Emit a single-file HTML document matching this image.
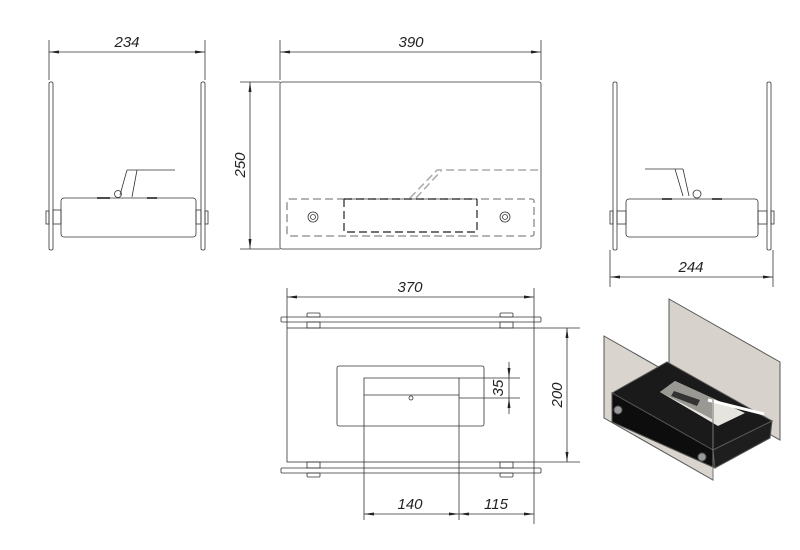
<!DOCTYPE html>
<html><head><style>html,body{margin:0;padding:0;background:#fff;}svg{display:block}
text{font-family:"Liberation Sans",sans-serif;font-style:italic;font-size:15px;fill:#222}</style></head>
<body>
<svg width="800" height="550" viewBox="0 0 800 550" xmlns="http://www.w3.org/2000/svg">
<defs>
<marker id="a" markerWidth="10" markerHeight="6" refX="10" refY="3" orient="auto-start-reverse" markerUnits="userSpaceOnUse"><path d="M0,1.5 L10,3 L0,4.5 Z" fill="#222"/></marker>
</defs>
<g stroke="#333" stroke-width="0.8" fill="none">
<!-- LEFT VIEW -->
<line x1="49" y1="40" x2="49" y2="80"/><line x1="205" y1="40" x2="205" y2="80"/>
<line x1="49" y1="52" x2="205" y2="52" marker-start="url(#a)" marker-end="url(#a)"/>
<rect x="49" y="82" width="4" height="168" rx="1.5"/>
<rect x="201" y="82" width="4" height="168" rx="1.5"/>
<rect x="61" y="198" width="135" height="39" rx="3"/>
<rect x="53" y="210" width="8" height="14"/><rect x="46" y="211" width="3" height="13"/>
<rect x="196" y="210" width="5" height="14"/><rect x="205" y="211" width="3" height="13"/>
<line x1="127" y1="170" x2="175" y2="170" stroke="#999" stroke-width="1.5"/>
<path d="M127,170 L120,195 M137,170 L132,197"/>
<circle cx="118" cy="194" r="3.5"/>
<line x1="97" y1="198" x2="110" y2="198" stroke="#111" stroke-width="1.5"/>
<line x1="147" y1="198" x2="157" y2="198" stroke="#111" stroke-width="1.5"/>
<!-- FRONT VIEW -->
<line x1="280" y1="40" x2="280" y2="80"/><line x1="541" y1="40" x2="541" y2="80"/>
<line x1="280" y1="52" x2="541" y2="52" marker-start="url(#a)" marker-end="url(#a)"/>
<rect x="280" y="82" width="261" height="167" rx="2"/>
<line x1="240" y1="82" x2="280" y2="82"/><line x1="240" y1="249" x2="280" y2="249"/>
<line x1="250" y1="82" x2="250" y2="249" marker-start="url(#a)" marker-end="url(#a)"/>
<rect x="287" y="199" width="247" height="37" rx="2" stroke="#888" stroke-width="1.3" stroke-dasharray="8,4"/>
<path d="M344,199 L344,232 L477,232 L477,199 M344,199 L477,199" stroke="#222" stroke-width="1.2" stroke-dasharray="8,4"/>
<path d="M410,198 L437,170 L541,170 M416,198 L441,171" stroke="#aaa" stroke-width="1.5" stroke-dasharray="8,4"/>
<circle cx="313" cy="217" r="5"/><circle cx="313" cy="217" r="2.5"/>
<circle cx="505" cy="217" r="5"/><circle cx="505" cy="217" r="2.5"/>
<!-- RIGHT VIEW -->
<rect x="613" y="82" width="4" height="168" rx="1.5"/>
<rect x="767" y="82" width="4" height="168" rx="1.5"/>
<rect x="626" y="199" width="132" height="38" rx="3"/>
<rect x="617" y="211" width="9" height="13"/><rect x="610" y="211" width="3" height="13"/>
<rect x="758" y="211" width="9" height="13"/><rect x="771" y="211" width="3" height="13"/>
<line x1="645" y1="169" x2="683" y2="169" stroke="#999" stroke-width="1.5"/>
<path d="M683,169 L689,196 M675,169 L683,196"/>
<circle cx="697" cy="194" r="4"/>
<line x1="662" y1="199" x2="672" y2="199" stroke="#111" stroke-width="1.5"/>
<line x1="712" y1="199" x2="722" y2="199" stroke="#111" stroke-width="1.5"/>
<line x1="610" y1="250" x2="610" y2="287"/><line x1="773" y1="250" x2="773" y2="287"/>
<line x1="610" y1="277" x2="773" y2="277" marker-start="url(#a)" marker-end="url(#a)"/>
<!-- TOP VIEW -->
<line x1="287" y1="288" x2="287" y2="328"/><line x1="534" y1="288" x2="534" y2="328"/>
<line x1="287" y1="297" x2="534" y2="297" marker-start="url(#a)" marker-end="url(#a)"/>
<rect x="281" y="317" width="260" height="5" rx="1"/>
<rect x="281" y="468" width="260" height="5" rx="1"/>
<rect x="287" y="328" width="247" height="134"/>
<rect x="307" y="313" width="13" height="4" rx="1"/><rect x="307" y="322" width="13" height="6"/>
<rect x="500" y="313" width="13" height="4" rx="1"/><rect x="500" y="322" width="13" height="6"/>
<rect x="307" y="462" width="13" height="6"/><rect x="307" y="473" width="13" height="4" rx="1"/>
<rect x="500" y="462" width="13" height="6"/><rect x="500" y="473" width="13" height="4" rx="1"/>
<rect x="337" y="366" width="147" height="60" rx="2"/>
<path d="M364,520 L364,378 L459,378 L459,520 M364,395 L459,395"/>
<circle cx="411" cy="398" r="2"/>
<line x1="459" y1="378" x2="520" y2="378"/><line x1="459" y1="398" x2="520" y2="398"/>
<line x1="509" y1="362" x2="509" y2="378" marker-end="url(#a)"/>
<line x1="509" y1="414" x2="509" y2="398" marker-end="url(#a)"/>
<line x1="509" y1="378" x2="509" y2="398"/>
<line x1="534" y1="328" x2="580" y2="328"/><line x1="534" y1="462" x2="580" y2="462"/>
<line x1="567" y1="328" x2="567" y2="462" marker-start="url(#a)" marker-end="url(#a)"/>
<line x1="534" y1="462" x2="534" y2="524"/>
<line x1="364" y1="514" x2="459" y2="514" marker-start="url(#a)" marker-end="url(#a)"/>
<line x1="459" y1="514" x2="534" y2="514" marker-start="url(#a)" marker-end="url(#a)"/>
</g>
<!-- ISO VIEW -->
<g stroke="#555" stroke-width="1">
<polygon points="669,299 780,362 780,440 669,378" fill="#d7d3cc"/>
<polygon points="604,336 713,398 713,480 604,418" fill="#d9d5ce"/>
<polygon points="612,393 667,362 772,421 713,450" fill="#1a1a1a"/>
<polygon points="612,393 713,450 715,468 612,422" fill="#0d0d0d"/>
<polygon points="713,450 772,421 770,438 715,468" fill="#1e1e1e"/>
<polygon points="660,392 675,381 745,413 718,426" fill="#e6e4df" stroke="none"/>
<polygon points="660,392 675,381 712,398 712,419" fill="#9a9893" stroke="none"/>
<polygon points="674,391 700,400 697,406 671,396" fill="#333" stroke="none"/>
<line x1="708" y1="400" x2="764" y2="414" stroke="#fff" stroke-width="3"/>
<line x1="713" y1="398" x2="713" y2="480" stroke="#777"/>
<circle cx="618" cy="410" r="4" fill="#999"/>
<circle cx="702" cy="457" r="4" fill="#999"/>
</g>
<text x="127" y="47" text-anchor="middle">234</text>
<text x="411" y="47" text-anchor="middle">390</text>
<text x="0" y="0" text-anchor="middle" transform="translate(245,165) rotate(-90)">250</text>
<text x="691" y="272" text-anchor="middle">244</text>
<text x="410" y="292" text-anchor="middle">370</text>
<text x="0" y="0" text-anchor="middle" transform="translate(503,388) rotate(-90)">35</text>
<text x="0" y="0" text-anchor="middle" transform="translate(562,395) rotate(-90)">200</text>
<text x="410" y="509" text-anchor="middle">140</text>
<text x="496" y="509" text-anchor="middle">115</text>
</svg>
</body></html>
